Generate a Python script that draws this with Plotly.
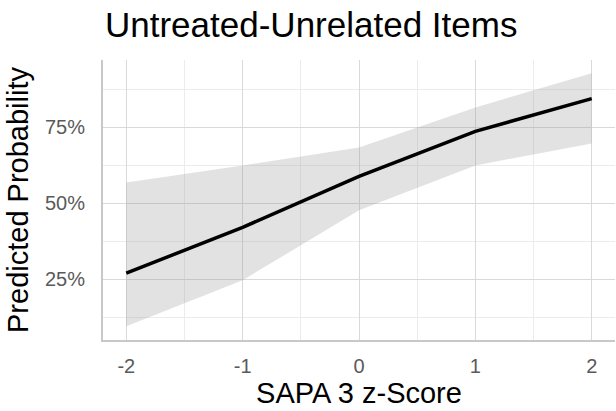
import plotly.graph_objects as go

z_score = [-2, -1, 0, 1, 2]
predicted = [0.27, 0.421, 0.589, 0.737, 0.845]
ci_upper = [0.569, 0.625, 0.684, 0.816, 0.928]
ci_lower = [0.095, 0.247, 0.477, 0.625, 0.697]

y_ticks = [0.25, 0.50, 0.75]
y_tick_labels = ["25%", "50%", "75%"]
x_ticks = [-2, -1, 0, 1, 2]

fig = go.Figure()
fig.add_trace(go.Scatter(x=z_score, y=ci_lower, mode="lines", line=dict(width=0),
                         showlegend=False, hoverinfo="skip"))
fig.add_trace(go.Scatter(x=z_score, y=ci_upper, mode="lines", line=dict(width=0),
                         fill="tonexty", fillcolor="rgba(150,150,150,0.28)",
                         showlegend=False, hoverinfo="skip"))
fig.add_trace(go.Scatter(x=z_score, y=predicted, mode="lines",
                         line=dict(color="black", width=3.5), showlegend=False))

font = "Liberation Sans, Arial, sans-serif"
fig.update_layout(
    width=616, height=411,
    margin=dict(l=103, r=1, t=60, b=71),
    plot_bgcolor="white", paper_bgcolor="white",
    font=dict(family=font),
    title=dict(text="Untreated-Unrelated Items", x=105/616, xanchor="left",
               xref="container", y=1 - 25/411, yanchor="middle", yref="container",
               font=dict(size=35, color="black", family=font)),
)
fig.update_xaxes(
    range=[-2.2, 2.2], tickvals=x_ticks, ticktext=[str(v) for v in x_ticks],
    showgrid=True, gridcolor="#d9d9d9", gridwidth=1.2,
    minor=dict(dtick=0.5, tick0=-2, showgrid=True, gridcolor="#ececec", gridwidth=1.2),
    showline=True, linecolor="#c8c8c8", linewidth=2,
    zeroline=False, ticks="", ticklabelstandoff=7,
    tickfont=dict(size=20, color="#5a5a5a"),
    title=dict(text="SAPA 3 z-Score", font=dict(size=29, color="black"), standoff=6),
)
fig.update_yaxes(
    range=[0.05, 0.972], tickvals=y_ticks, ticktext=y_tick_labels,
    showgrid=True, gridcolor="#d9d9d9", gridwidth=1.2,
    minor=dict(tickvals=[0.125, 0.375, 0.625, 0.875], showgrid=True, gridcolor="#ececec", gridwidth=1.2),
    showline=True, linecolor="#c8c8c8", linewidth=2,
    zeroline=False, ticks="", ticklabelstandoff=12,
    tickfont=dict(size=20, color="#5a5a5a"),
    title=dict(text="Predicted Probability", font=dict(size=29, color="black"), standoff=8),
)

fig.write_html("out.html")
